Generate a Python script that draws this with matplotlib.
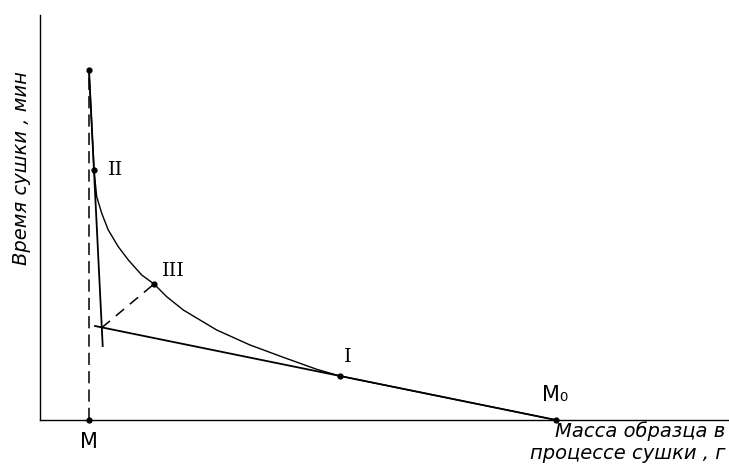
import matplotlib
matplotlib.use("Agg")
import matplotlib.pyplot as plt

# drying curve (mass, time)
curve_x = [0.711, 0.784, 0.823, 0.896, 0.991, 1.136, 1.282, 1.476, 1.655, 1.839,
           2.080, 2.322, 2.565, 3.048, 3.531, 4.016, 4.354, 7.489]
curve_y = [8.642, 6.173, 5.514, 5.104, 4.691, 4.279, 3.951, 3.580, 3.358, 3.044,
           2.716, 2.469, 2.222, 1.852, 1.548, 1.252, 1.086, 0.0]

# tangent lines
steep_x = [0.711, 0.910]
steep_y = [8.642, 1.827]
low_x = [0.798, 7.489]
low_y = [2.321, 0.0]

# construction lines
cross_x = [0.896, 1.655]
cross_y = [2.279, 3.358]
vert_x = [0.711, 0.711]
vert_y = [0.0, 8.642]

# marked points
pts_x = [0.711, 0.784, 1.655, 4.354, 7.489, 0.711]
pts_y = [8.642, 6.173, 3.358, 1.086, 0.0, 0.0]

fig = plt.figure(figsize=(7.29, 4.66), dpi=100)
ax = fig.add_axes([40 / 729, 46 / 466, 689 / 729, 405 / 466])
ax.set_xlim(0, 10)
ax.set_ylim(0, 10)
for s in ["top", "right"]:
    ax.spines[s].set_visible(False)
ax.spines["left"].set_linewidth(1.0)
ax.spines["bottom"].set_linewidth(1.0)
ax.set_xticks([])
ax.set_yticks([])

ax.plot(curve_x, curve_y, color="black", lw=1.0, solid_joinstyle="round")
ax.plot(steep_x, steep_y, color="black", lw=1.3)
ax.plot(low_x, low_y, color="black", lw=1.3)
ax.plot(cross_x, cross_y, color="black", lw=1.1, dashes=(7, 5))
ax.plot(vert_x, vert_y, color="black", lw=1.1, dashes=(8, 4))
ax.plot(pts_x, pts_y, "o", color="black", ms=3.5, clip_on=False)

serif = dict(family="DejaVu Serif", fontsize=14, color="black")
ax.text(1.09, 6.17, "II", va="center", ha="center", **serif)
ax.text(1.93, 3.68, "III", va="center", ha="center", **serif)
ax.text(4.46, 1.55, "I", va="center", ha="center", **serif)

hand = dict(family="DejaVu Sans", style="italic", fontsize=14, color="black")
ax.text(7.47, 0.62, "M₀", ha="center", va="center", fontsize=15, family="DejaVu Sans")
ax.text(0.711, -0.55, "M", ha="center", va="center", fontsize=15, family="DejaVu Sans")

fig.text(0.995, 0.052, "Масса образца в\nпроцессе сушки , г", ha="right", va="center",
         linespacing=1.2, **hand)
fig.text(0.03, 0.64, "Время сушки , мин", rotation=90, ha="center", va="center", **hand)

fig.savefig("out.png", dpi=100)
